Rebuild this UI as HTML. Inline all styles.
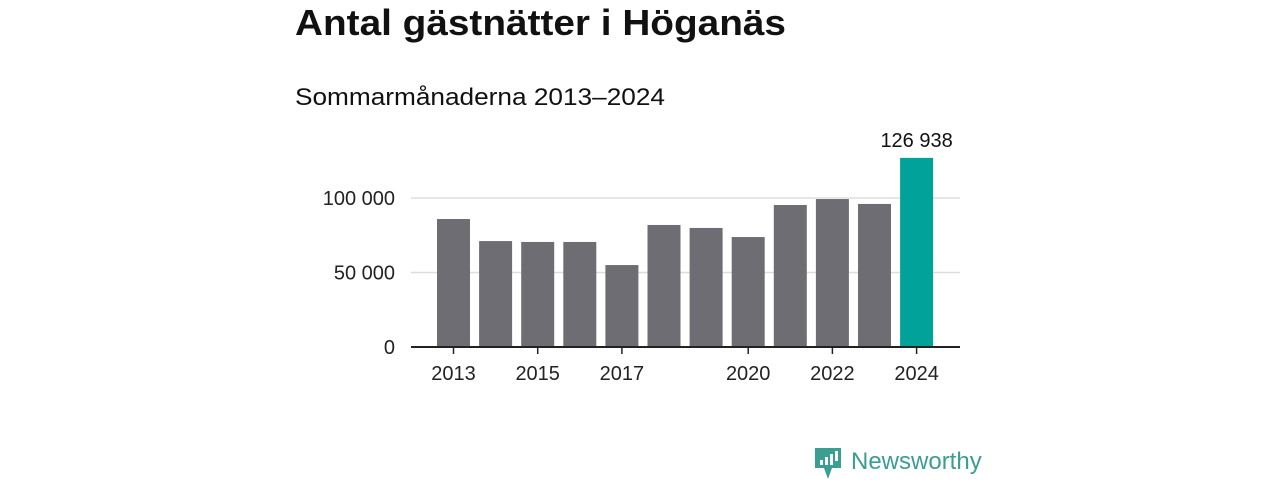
<!DOCTYPE html>
<html><head><meta charset="utf-8"><style>
body{margin:0;width:1280px;height:480px;background:#fff;font-family:"Liberation Sans","DejaVu Sans",sans-serif;overflow:hidden}
</style></head><body>
<svg width="1280" height="480">
<text x="295" y="35" font-size="36" font-weight="bold" fill="#111" textLength="491" lengthAdjust="spacingAndGlyphs">Antal gästnätter i Höganäs</text>
<text x="295" y="105" font-size="24" fill="#111" textLength="370" lengthAdjust="spacingAndGlyphs">Sommarmånaderna 2013–2024</text>
<g id="plot"></g>
<g>
<path d="M815 448 h26 v20 h-9 l-4 11 l-4 -11 h-9 z" fill="#3a9e93"/>
<rect x="820" y="460" width="3" height="5" fill="#fff"/><rect x="825" y="457" width="3" height="8" fill="#fff"/><rect x="830" y="454" width="3" height="11" fill="#fff"/><rect x="835" y="451" width="3" height="10" fill="#fff"/>
<text x="851" y="469" font-size="24" fill="#3a9e93">Newsworthy</text>
</g>
</svg>
<script>
const years=[2013,2014,2015,2016,2017,2018,2019,2020,2021,2022,2023,2024];
const values=[85900,71100,70500,70500,55000,81900,79900,73800,95300,99300,96000,126938];
const yTicks=[0,50000,100000];
const yTickLabels=["0","50 000","100 000"];
const xTickYears=[2013,2015,2017,2020,2022,2024];
const NS="http://www.w3.org/2000/svg";
const g=document.getElementById('plot');
const y0=347,pxPer=149/100000;
const yScale=v=>y0-v*pxPer;
const xScale=yr=>453.5+(yr-2013)*42.1;
const bw=33;
function mk(t,a){const e=document.createElementNS(NS,t);for(const k in a)e.setAttribute(k,a[k]);g.appendChild(e);return e;}
yTicks.forEach((v,i)=>{
 if(v>0){const l=mk('line',{x1:411,x2:960,y1:yScale(v),y2:yScale(v),stroke:'#ddd','stroke-width':1.5});
 
 }
 const t=mk('text',{x:395,y:yScale(v)+7,'font-size':20,'text-anchor':'end',fill:'#222'});
 t.textContent=yTickLabels[i];
 
 
});
years.forEach((yr,i)=>{
 const last=i===years.length-1;
 const r=mk('rect',{x:xScale(yr)-bw/2,y:yScale(values[i]),width:bw,height:y0-yScale(values[i]),fill:last?'#00a29a':'#6e6d73'});
 
 
 if(last){const t=mk('text',{x:xScale(yr),y:yScale(values[i])-11,'font-size':20,'text-anchor':'middle',fill:'#111'});
 t.textContent=values[i].toString().replace(/\B(?=(\d{3})+(?!\d))/g,' ');
 
 }
});
const ax=mk('line',{x1:411,x2:960,y1:y0,y2:y0,stroke:'#222','stroke-width':2});


xTickYears.forEach(yr=>{
 const tk=mk('line',{x1:xScale(yr),x2:xScale(yr),y1:y0,y2:y0+7,stroke:'#222','stroke-width':1.5});
 
 
 const t=mk('text',{x:xScale(yr),y:380,'font-size':20,'text-anchor':'middle',fill:'#222'});
 t.textContent=yr;
 
 
});
</script>
</body></html>
